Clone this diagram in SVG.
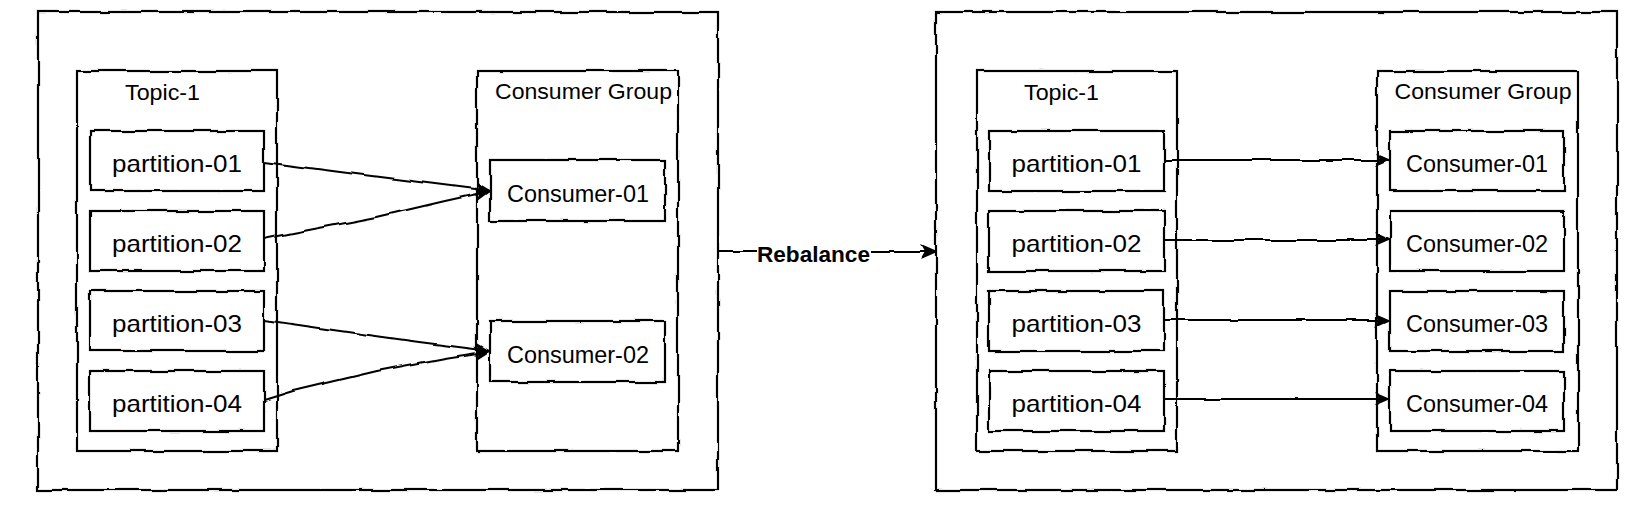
<svg xmlns="http://www.w3.org/2000/svg" width="1642" height="506" viewBox="0 0 1642 506">
  <defs>
    <filter id="rough" filterUnits="userSpaceOnUse" x="0" y="0" width="1642" height="506">
      <feTurbulence type="fractalNoise" baseFrequency="0.035" numOctaves="2" seed="7" result="noise"/>
      <feDisplacementMap in="SourceGraphic" in2="noise" scale="4" xChannelSelector="R" yChannelSelector="G"/>
    </filter>
    <marker id="arrow" viewBox="0 0 16 14" refX="15" refY="7" markerWidth="16" markerHeight="14" markerUnits="userSpaceOnUse" orient="auto">
      <path d="M0,0 L16,7 L0,14 L4,7 Z" fill="#000"/>
    </marker>
    <style>
      .box { fill: #fff; stroke: #000; stroke-width: 2.2; }
      .edge { fill: none; stroke: #000; stroke-width: 2.2; }
      .lbl { font-family: "Liberation Sans", Arial, sans-serif; font-size: 24px; fill: #000; text-anchor: middle; }
      .title { font-family: "Liberation Sans", Arial, sans-serif; font-size: 22px; fill: #000; text-anchor: middle; }
      .bold { font-family: "Liberation Sans", Arial, sans-serif; font-size: 22px; font-weight: bold; fill: #000; }
    </style>
  </defs>
  <rect width="1642" height="506" fill="#fff"/>

  <!-- Left panel -->
  <g id="left-panel">
    <g id="left-outer"><rect class="box" x="38" y="12" width="680" height="478" filter="url(#rough)"/></g>
    <g id="left-topic">
      <rect class="box" x="77" y="71" width="200" height="380" filter="url(#rough)"/>
      <text class="title" x="162.5" y="100" textLength="75" lengthAdjust="spacingAndGlyphs">Topic-1</text>
    </g>
    <g id="left-group">
      <rect class="box" x="477" y="71" width="201" height="380" filter="url(#rough)"/>
      <text class="title" x="583.5" y="99" textLength="177" lengthAdjust="spacingAndGlyphs">Consumer Group</text>
    </g>
    <g id="left-p1">
      <rect class="box" x="90" y="131" width="174" height="60" filter="url(#rough)"/>
      <text class="lbl" x="177" y="172" textLength="130" lengthAdjust="spacingAndGlyphs">partition-01</text>
    </g>
    <g id="left-p2">
      <rect class="box" x="90" y="211" width="174" height="60" filter="url(#rough)"/>
      <text class="lbl" x="177" y="252" textLength="130" lengthAdjust="spacingAndGlyphs">partition-02</text>
    </g>
    <g id="left-p3">
      <rect class="box" x="90" y="291" width="174" height="60" filter="url(#rough)"/>
      <text class="lbl" x="177" y="332" textLength="130" lengthAdjust="spacingAndGlyphs">partition-03</text>
    </g>
    <g id="left-p4">
      <rect class="box" x="90" y="371" width="174" height="60" filter="url(#rough)"/>
      <text class="lbl" x="177" y="412" textLength="130" lengthAdjust="spacingAndGlyphs">partition-04</text>
    </g>
    <g id="left-c1">
      <rect class="box" x="490" y="160" width="175" height="61" filter="url(#rough)"/>
      <text class="lbl" x="578" y="202" textLength="142" lengthAdjust="spacingAndGlyphs">Consumer-01</text>
    </g>
    <g id="left-c2">
      <rect class="box" x="490" y="321" width="175" height="61" filter="url(#rough)"/>
      <text class="lbl" x="578" y="363" textLength="142" lengthAdjust="spacingAndGlyphs">Consumer-02</text>
    </g>
  </g>

  <!-- Right panel -->
  <g id="right-panel">
    <g id="right-outer"><rect class="box" x="936" y="12" width="681" height="478" filter="url(#rough)"/></g>
    <g id="right-topic">
      <rect class="box" x="977" y="71" width="200" height="380" filter="url(#rough)"/>
      <text class="title" x="1061.5" y="100" textLength="75" lengthAdjust="spacingAndGlyphs">Topic-1</text>
    </g>
    <g id="right-group">
      <rect class="box" x="1377" y="71" width="201" height="380" filter="url(#rough)"/>
      <text class="title" x="1483" y="99" textLength="177" lengthAdjust="spacingAndGlyphs">Consumer Group</text>
    </g>
    <g id="right-p1">
      <rect class="box" x="989" y="131" width="175" height="60" filter="url(#rough)"/>
      <text class="lbl" x="1076.5" y="172" textLength="130" lengthAdjust="spacingAndGlyphs">partition-01</text>
    </g>
    <g id="right-p2">
      <rect class="box" x="989" y="211" width="175" height="60" filter="url(#rough)"/>
      <text class="lbl" x="1076.5" y="252" textLength="130" lengthAdjust="spacingAndGlyphs">partition-02</text>
    </g>
    <g id="right-p3">
      <rect class="box" x="989" y="291" width="175" height="60" filter="url(#rough)"/>
      <text class="lbl" x="1076.5" y="332" textLength="130" lengthAdjust="spacingAndGlyphs">partition-03</text>
    </g>
    <g id="right-p4">
      <rect class="box" x="989" y="371" width="175" height="60" filter="url(#rough)"/>
      <text class="lbl" x="1076.5" y="412" textLength="130" lengthAdjust="spacingAndGlyphs">partition-04</text>
    </g>
    <g id="right-c1">
      <rect class="box" x="1390" y="131" width="174" height="60" filter="url(#rough)"/>
      <text class="lbl" x="1477" y="172" textLength="142" lengthAdjust="spacingAndGlyphs">Consumer-01</text>
    </g>
    <g id="right-c2">
      <rect class="box" x="1390" y="211" width="174" height="60" filter="url(#rough)"/>
      <text class="lbl" x="1477" y="252" textLength="142" lengthAdjust="spacingAndGlyphs">Consumer-02</text>
    </g>
    <g id="right-c3">
      <rect class="box" x="1390" y="291" width="174" height="60" filter="url(#rough)"/>
      <text class="lbl" x="1477" y="332" textLength="142" lengthAdjust="spacingAndGlyphs">Consumer-03</text>
    </g>
    <g id="right-c4">
      <rect class="box" x="1390" y="371" width="174" height="60" filter="url(#rough)"/>
      <text class="lbl" x="1477" y="412" textLength="142" lengthAdjust="spacingAndGlyphs">Consumer-04</text>
    </g>
  </g>

  <!-- Connectors -->
  <g id="connectors">
    <g filter="url(#rough)">
      <path class="edge" d="M264,162 L340,172 L419,182 L490,191" marker-end="url(#arrow)"/>
      <path class="edge" d="M264,239 L293,233 L377,217 L445,201 L490,191" marker-end="url(#arrow)"/>
      <path class="edge" d="M264,320 L340,331 L419,342 L490,351" marker-end="url(#arrow)"/>
      <path class="edge" d="M264,400 L293,391 L377,371 L445,358 L490,351" marker-end="url(#arrow)"/>
      <path class="edge" d="M1164,160 L1390,160" marker-end="url(#arrow)"/>
      <path class="edge" d="M1164,240 L1390,240" marker-end="url(#arrow)"/>
      <path class="edge" d="M1164,320 L1390,320" marker-end="url(#arrow)"/>
      <path class="edge" d="M1164,399 L1390,399" marker-end="url(#arrow)"/>
      <path class="edge" d="M718,251 L756,251"/>
      <path class="edge" d="M871,252 L936,252" marker-end="url(#arrow)"/>
    </g>
    <text class="bold" x="757" y="262" textLength="113" lengthAdjust="spacingAndGlyphs">Rebalance</text>
  </g>
</svg>
